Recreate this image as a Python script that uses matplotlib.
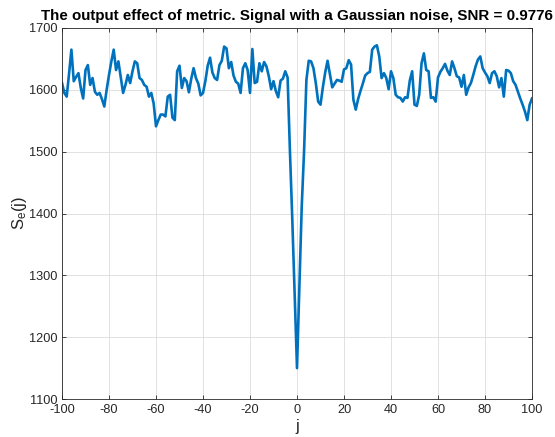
import numpy as np
import matplotlib
matplotlib.use("Agg")
import matplotlib.pyplot as plt

# 數據：j = -100 ... 100
J_MIN, J_MAX = -100, 100
SE_VALUES = [
    1611, 1595, 1589, 1626, 1665, 1614, 1621, 1627, 1603, 1586,   # -100..-91
    1632, 1640, 1608, 1619, 1597, 1592, 1595, 1585, 1573, 1600,   # -90..-81
    1624, 1646, 1665, 1632, 1646, 1621, 1595, 1608, 1624, 1611,   # -80..-71
    1630, 1646, 1643, 1619, 1616, 1608, 1605, 1589, 1595, 1578,   # -70..-61
    1541, 1551, 1560, 1560, 1557, 1589, 1592, 1555, 1551, 1630,   # -60..-51
    1639, 1603, 1619, 1614, 1596, 1618, 1635, 1619, 1610, 1591,   # -50..-41
    1595, 1614, 1639, 1652, 1628, 1619, 1616, 1640, 1647, 1670,   # -40..-31
    1667, 1635, 1645, 1623, 1613, 1610, 1595, 1635, 1643, 1632,   # -30..-21
    1595, 1666, 1611, 1613, 1643, 1630, 1645, 1638, 1622, 1601,   # -20..-11
    1614, 1598, 1588, 1615, 1618, 1630, 1620, 1500, 1390, 1270,   # -10..-1
    1150,                                                         # 0
    1280, 1410, 1500, 1616, 1647, 1646, 1635, 1611, 1581, 1576,   # 1..10
    1604, 1628, 1647, 1626, 1604, 1610, 1616, 1615, 1613, 1633,   # 11..20
    1635, 1648, 1641, 1584, 1568, 1585, 1598, 1610, 1623, 1627,   # 21..30
    1629, 1665, 1670, 1672, 1654, 1619, 1627, 1619, 1601, 1630,   # 31..40
    1619, 1592, 1588, 1587, 1581, 1588, 1587, 1615, 1630, 1576,   # 41..50
    1574, 1592, 1643, 1659, 1632, 1630, 1587, 1588, 1581, 1620,   # 51..60
    1629, 1635, 1642, 1631, 1624, 1646, 1635, 1622, 1620, 1605,   # 61..70
    1624, 1592, 1604, 1611, 1624, 1638, 1649, 1654, 1635, 1628,   # 71..80
    1622, 1611, 1627, 1630, 1622, 1604, 1619, 1589, 1632, 1631,   # 81..90
    1627, 1614, 1608, 1597, 1586, 1576, 1565, 1551, 1576, 1586,   # 91..100
]
X_TICKS = list(range(-100, 101, 20))
Y_TICKS = list(range(1100, 1701, 100))

TITLE = "The output effect of metric. Signal with a Gaussian noise, SNR = 0.9776"

plt.rcParams['font.family'] = ['Liberation Sans', 'DejaVu Sans']
plt.rcParams['mathtext.fontset'] = 'custom'
plt.rcParams['mathtext.rm'] = 'Liberation Sans'
plt.rcParams['mathtext.it'] = 'Liberation Sans'
plt.rcParams['axes.unicode_minus'] = False

j = np.arange(J_MIN, J_MAX + 1)
se = np.array(SE_VALUES)

fig = plt.figure(figsize=(5.55, 4.37), dpi=100)
ax = fig.add_axes([62 / 555, 1 - 399 / 437, 470 / 555, 371 / 437])

ax.plot(j, se, color='#0072BD', linewidth=1.9)

ax.set_xlim(J_MIN, J_MAX)
ax.set_ylim(1100, 1700)
ax.set_xticks(X_TICKS)
ax.set_yticks(Y_TICKS)

dark = '#262626'
ax.tick_params(direction='in', length=3, width=0.6, colors=dark, labelsize=9.2,
               top=True, right=True, labelcolor=dark)
for sp in ax.spines.values():
    sp.set_color(dark)
    sp.set_linewidth(0.6)

ax.grid(True, color='#dcdcdc', linewidth=0.6)
ax.set_axisbelow(True)

ax.set_title(TITLE, fontsize=10.9, fontweight='bold', color='black', pad=6)
ax.set_xlabel('j', fontsize=12, color=dark, labelpad=2)
ax.set_ylabel(r'S$_\mathrm{e}$(j)', fontsize=12, color=dark, labelpad=0)

fig.savefig('out.png', dpi=100)
plt.close(fig)
